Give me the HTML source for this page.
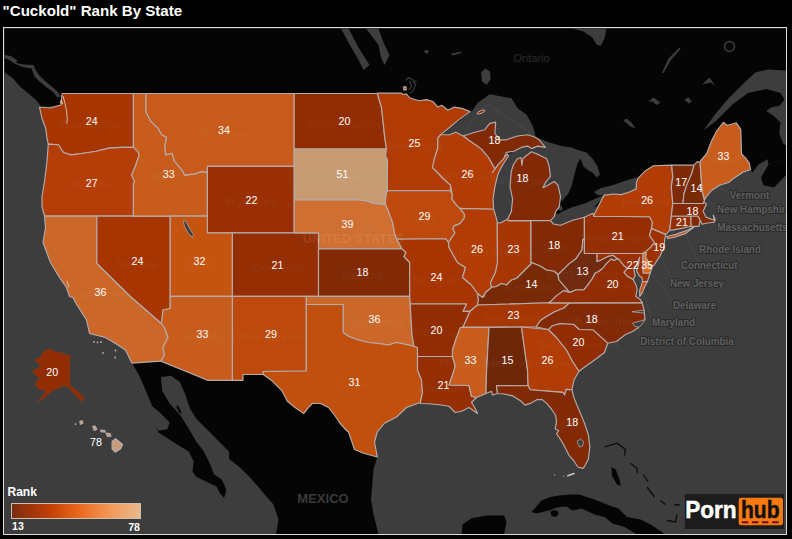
<!DOCTYPE html>
<html><head><meta charset="utf-8"><title>Rank By State</title>
<style>
html,body{margin:0;padding:0;background:#000;}
body{width:792px;height:539px;overflow:hidden;position:relative;font-family:"Liberation Sans",sans-serif;}
#title{position:absolute;left:2.6px;top:1px;color:#fff;font-weight:bold;font-size:15.1px;line-height:20px;white-space:nowrap;}
svg{position:absolute;left:0;top:0;}
svg text{font-family:"Liberation Sans",sans-serif;}
</style></head><body>
<div id="title">"Cuckold" Rank By State</div>
<svg width="792" height="539" viewBox="0 0 792 539">
<defs><clipPath id="c"><rect x="4" y="28" width="782" height="506"/></clipPath><linearGradient id="g" x1="0" x2="1" y1="0" y2="0"><stop offset="0" stop-color="#7a2c10"/><stop offset="0.3" stop-color="#c23f06"/><stop offset="0.5" stop-color="#e8641a"/><stop offset="0.75" stop-color="#f29655"/><stop offset="1" stop-color="#e9ba8e"/></linearGradient></defs>
<rect x="3.5" y="27.5" width="783" height="507" fill="#3d3d3d" stroke="#dcdcdc" stroke-width="1"/>
<g clip-path="url(#c)">
<g transform="translate(0.5,0.5)">
<polygon points="4,28 786,28 786,70 768,69 755,71.7 745,81 727,99 714,114.5 703,130 716,120 732,104 747.5,92.5 765.7,88.5 780,92.5 784,99 778.7,105.5 771,106.8 765.7,110.6 773.5,115.8 780,122 778.7,132.7 782.6,143 786,145 786,158.7 768,164 767,158.7 758,164 752,172 745,165 720,170 700,175 680,190 640,200 600,205 560,215 500,180 470,150 440,140 400,150 396,95 62,95 60.4,104 50,106 39,106.5 39.1,103.8 35.4,99.3 27.8,93 18.9,85.5 12.6,77.9 4,71.6" fill="#050505"/>
<polygon points="760.5,177 768,164 786,158.7 786,174 773.5,187 763,184.7" fill="#050505"/>
<polygon points="131.4,362.6 160.4,360.6 207.1,379.8 231.9,379.8 242.5,379.8 242.5,374 262.7,374 271.5,380.3 281.6,390.4 286.7,400.5 294.2,406.8 303.1,413.1 308.1,406.8 311.9,403 320,403 328,407 334,414.5 339,422 345.5,429.5 348,431.5 354,449 363,452.75 376.75,456.5 373,469 370.5,499 373,514 378,534 275.5,534 278,519 273,504 265,495 257.6,486 248.8,476.3 238.7,466.2 228.6,458.6 228.6,451 221,443.4 208.4,430.8 195.8,418.2 189.4,408.1 184.4,392.9 179.3,381.6 170.5,375.3 160.4,376.5 161.7,390.4 169.2,403 180.6,415.7 188.2,428.3 195.8,440.9 203.3,451 209.6,463.6 213.4,473.7 221,478.8 223.5,483.8 226,490 223.5,497.5 219,492 216,486 205.9,481.3 195.8,476.3 192,471.2 193.2,461.1 188.2,451 178,444.7 168,438.4 157.9,432 154.8,424.5 157.9,430.3 166.7,428.8 169.2,422 160.4,413.1 151.6,405.6 146.5,392.9 138.9,375.3" fill="#050505"/>
<polygon points="461,534 462,524 471,517.75 486,515 503.5,515 506,521.5 503.5,534" fill="#050505"/>
<polygon points="531,511.5 536,506 541,500 550,496.5 558.5,495 570,494 578.5,494 594,499 609,505 618,508 626.5,516.5 640,519 650,524 661.5,531.5 664,534 636.5,534 630,530 624,526.5 612,523 604,516.5 594,514 581,508 572,510 566,506 556,507 548.5,510 540,512 536,513" fill="#050505"/>
<polygon points="550,511 553,509.5 557,510.5 558,514 555,516.5 551,515.5" fill="#050505"/>
<polygon points="175.5,405.6 177.5,405 181,412 179.5,413.5" fill="#050505"/>
<polygon points="611,466.5 615.25,469 619,479 620.25,485.25 616.5,484 611.5,475.25" fill="#050505"/>
<polygon points="441.4,134.2 455.3,122.9 471.7,110.25 476.7,102.7 489.3,93.8 495.7,95.1 510.8,97.6 517.1,107.7 526,114 532.3,125.4 534.8,134.2 534.8,136.8 527.2,134.2 517.1,135.5 505.8,139.3 499.4,139.3 494.4,133 495.2,121.6 489.3,122.9 484.3,129.2 474.2,131.7 462.8,135.5 455.3,131.7 449,134.2" fill="#3d3d3d"/>
<polygon points="496.2,218.8 493.1,208.7 492.6,198.6 494.4,186 496.9,175.9 498,170 504,160 508,154 513.3,150.7 520.9,146.9 527.2,145.6 531,148.1 531,151.2 526,155 522.5,158 521.4,165 520.5,157 517.1,158.2 513,164 510.8,170.9 509.5,186 512.1,198.6 510.8,211.3 507,218.8 502,222.5 498,222" fill="#3d3d3d"/>
<polygon points="534.8,136.8 541,139 549,142 561,145.6 571,147 579,150 586,152 592,158 597,166 599.4,174.3 596,177 592,172 588,170 583,166 580,158 577,163 575,170 573,178 571,186 567.6,193.6 563.8,197.4 561.3,201 560,196.1 557.5,184.7 553.7,181 547.4,184.7 542.4,187.3 544.9,182.2 549.9,175.9 548.7,165.8 546.2,158.2 538.6,154.4 531,151.2 531,148.1 537.3,145.6 544.9,146.9 538.6,139.3" fill="#3d3d3d"/>
<polygon points="549.9,220.1 553.7,216.3 561.3,211.3 572.1,206.6 584.3,203 596.4,197.5 602.9,194.9 603.5,194.9 601.5,198.5 594.1,205.7 593.4,214.7 583.9,216.7 572.1,219.8 560,224.8 553,223.5" fill="#3d3d3d"/>
<polygon points="593.4,191.5 600.5,187.4 612.6,184.4 624.7,180.3 634.8,177.3 637.9,177.3 642,173 639,179 635.8,182.4 635.8,188.4 628.8,191.5 620.7,194.1 612.6,193.5 603.5,194.9 597,194.5" fill="#3d3d3d"/>
<polygon points="558,206 561,205 562.5,208.5 560,210.5 557.5,209" fill="#3d3d3d"/>
<polygon points="4,54.5 10,55.5 16.5,59.5 16,62.5 23,64 33,64.5 35,69 38,74 44,80 50,85 57,91 60.5,96 57,97 52,91 45,86 39,81 34,76 31,68 22,66.5 14,63 8,59 4,57.5" fill="#3d3d3d"/>
<polygon points="405,88 406,88 406,89" fill="#3d3d3d"/>
<polygon points="423.5,50 428.5,49.5 427,53 425,53" fill="#3d3d3d"/>
<polygon points="450,53.5 460,51 461,52.5 452,55" fill="#3d3d3d"/>
<polygon points="647.75,101 653,97 660,102 656,104.5 652,101" fill="#3d3d3d"/>
<polygon points="684,99 688,97 691.5,101 688,103" fill="#3d3d3d"/>
<polygon points="622.75,120 626,118 631,122 635,128 630,126" fill="#3d3d3d"/>
<polygon points="701.5,84 709,77 715,85.75 710,82 706,83" fill="#3d3d3d"/>
<polygon points="661.5,72 668,58 679,47 680,48.5 670,60 663,72.5" fill="#3d3d3d"/>
<polygon points="340.5,28 348,28 358,47 369,64.5 363,69.5 358,59.5 348,42" fill="#3d3d3d"/>
<polygon points="365.5,28 378,28 383,42 389,54.5 384,64.5 380.5,57 378,44.5 370.5,34.5" fill="#3d3d3d"/>
<polygon points="480.5,72 485,68 489.5,71 490,79 486,84.5 481.5,81" fill="#3d3d3d"/>
<polygon points="571,28 606,28 604,38 600,45.5 596,44 592,37 583,31" fill="#3d3d3d"/>
<polygon points="576.5,441 580,438.5 583,441 582,445.5 579,446.5" fill="#3d3d3d"/>
<polygon points="631.3,311.3 643,309.6 643.6,312.6" fill="#3d3d3d"/>
<polygon points="632,322.7 644.6,319.3 641.5,323.5 638.5,326.8 634.3,325.7" fill="#3d3d3d"/>
<polygon points="183,221 185,220 189,228 193,234 192,237 188,233 184,226" fill="#3d3d3d"/>
<polyline points="604,446.5 616.5,442.75 625,449 624,455" fill="none" stroke="#0b0b0b" stroke-width="1.3"/>
<polyline points="630,462.75 636.5,467.75 637,472.75" fill="none" stroke="#0b0b0b" stroke-width="1.3"/>
<polyline points="642.75,474 647.75,481.5" fill="none" stroke="#0b0b0b" stroke-width="1.3"/>
<polyline points="646.5,486.5 654,496.5" fill="none" stroke="#0b0b0b" stroke-width="1.3"/>
<polyline points="660,500 665,504" fill="none" stroke="#0b0b0b" stroke-width="1.3"/>
<polyline points="666.5,520 675,521.5 676.5,514" fill="none" stroke="#0b0b0b" stroke-width="1.3"/>
<polyline points="674,504 679,504.5" fill="none" stroke="#0b0b0b" stroke-width="1.3"/>
<circle cx="729" cy="46" r="5" fill="none" stroke="#3d3d3d" stroke-width="1.5"/>
<polyline points="463.5,134.5 478.5,109.5 488.5,104.5 531,133" fill="none" stroke="#4c4c4c" stroke-width="0.8"/>
<ellipse cx="480.5" cy="111.5" rx="4.2" ry="1.3" transform="rotate(-24 480.5 111.5)" fill="#822a06" stroke="#c9c0bd" stroke-width="0.8"/>
<path d="M405 80L408 77L412 79L415 84L413 90L409 93M409 80L411 86L408 90M412 82L416 80" fill="none" stroke="#3a3a3a" stroke-width="1.2"/>
<line x1="717" y1="241.5" x2="698" y2="224" stroke="#4b4b4b" stroke-width="0.8"/>
<line x1="697" y1="261" x2="684" y2="230" stroke="#4b4b4b" stroke-width="0.8"/>
<line x1="729" y1="192" x2="690" y2="176" stroke="#4b4b4b" stroke-width="0.8"/>
<line x1="716" y1="208" x2="701" y2="192" stroke="#4b4b4b" stroke-width="0.8"/>
<line x1="716" y1="227" x2="708" y2="216" stroke="#4b4b4b" stroke-width="0.8"/>
<line x1="672" y1="281" x2="660" y2="256" stroke="#4b4b4b" stroke-width="0.8"/>
<line x1="672" y1="300" x2="649" y2="271" stroke="#4b4b4b" stroke-width="0.8"/>
<line x1="651" y1="318" x2="636" y2="271" stroke="#4b4b4b" stroke-width="0.8"/>
<line x1="640" y1="337" x2="627" y2="269" stroke="#4b4b4b" stroke-width="0.8"/>
<g font-weight="bold" font-size="10.6" fill="#5f5f5f" stroke="#2a2a2a" stroke-width="2" paint-order="stroke" stroke-linejoin="round" text-anchor="middle">
<text transform="translate(749,198) scale(0.93,1)">Vermont</text>
<text transform="translate(753.5,212.7) scale(0.93,1)">New Hampshire</text>
<text transform="translate(752,230.3) scale(0.93,1)">Massachusetts</text>
<text transform="translate(729.5,252.2) scale(0.93,1)">Rhode Island</text>
<text transform="translate(708.7,268.3) scale(0.93,1)">Connecticut</text>
<text transform="translate(696.5,286.5) scale(0.93,1)">New Jersey</text>
<text transform="translate(694,308.3) scale(0.93,1)">Delaware</text>
<text transform="translate(673.2,325) scale(0.93,1)">Maryland</text>
<text transform="translate(686.4,344.6) scale(0.93,1)">District of Columbia</text>
</g>
<text x="322.5" y="502" text-anchor="middle" font-weight="bold" font-size="13" fill="#3a3a3a">MEXICO</text>
<text x="531" y="61" text-anchor="middle" font-size="11" fill="#2c2c2c">Ontario</text>
<g stroke="#b4acab" stroke-width="1.15" stroke-linejoin="round">
<polygon points="61.7,93 132.9,93 132.9,146.9 121,146.9 108.4,147.6 95.75,150.7 83,152.7 70.5,154.4 62.9,152 57.9,144.3 47.8,143.6 46.5,138 45.25,128 41.5,118 39,106.5 50,107.5 60.4,104.5 61,98" fill="#a63502"/>
<polygon points="47.8,143.6 57.9,144.3 62.9,152 70.5,154.4 83,152.7 95.75,150.7 108.4,147.6 121,146.9 132.9,146.9 137.4,151.2 138.7,154.4 134.9,165.8 131.1,174.6 134.1,181 132.9,183.5 132.9,215.6 44,215.6 41.5,206 41.5,196 44,181 46.5,160.75" fill="#b53d07"/>
<polygon points="44,215.6 96.4,215.6 96.4,263 130,296 161,323 164,327 167.5,337 162.5,347 164,354.5 160.4,360.6 131.4,362.6 125,349.5 117.5,344.5 105,337 89,333 86,319.5 75,302 72.5,297 69,296 66,287 59,277 50,262 42.5,242 45,227" fill="#cc672a"/>
<polygon points="96.4,215.6 169.7,215.6 169.7,308 162.5,309.5 161,323 130,296 96.4,263" fill="#a63502"/>
<polygon points="132.9,93 145.5,93 145.5,111.5 150,120.4 157.6,127.9 161.4,134.2 166,136.8 164.4,145.6 165.2,154.4 171.5,152.7 174,160.75 181.6,169.6 184.1,174.6 194.2,173.4 201.8,170.9 205.6,172 206.9,170 206.9,215.6 132.9,215.6 132.9,183.5 134.1,181 131.1,174.6 134.9,165.8 138.7,154.4 137.4,151.2 132.9,146.9" fill="#c75c1c"/>
<polygon points="145.5,93 293.7,93 293.7,165.8 206.9,165.8 206.9,170 205.6,172 201.8,170.9 194.2,173.4 184.1,174.6 181.6,169.6 174,160.75 171.5,152.7 165.2,154.4 164.4,145.6 166,136.8 161.4,134.2 157.6,127.9 150,120.4 145.5,111.5" fill="#c85b1b"/>
<polygon points="206.9,165.8 293.7,165.8 293.7,232.3 206.9,232.3" fill="#9a2f04"/>
<polygon points="169.7,215.6 206.9,215.6 206.9,232.3 231.9,232.3 231.9,295.9 169.7,295.9" fill="#c4540f"/>
<polygon points="231.9,232.3 318,232.3 318,295.9 231.9,295.9" fill="#952e03"/>
<polygon points="169.7,295.9 231.9,295.9 231.9,379.8 207.1,379.8 160.4,360.6 164,354.5 162.5,347 167.5,337 164,327 161,323 162.5,309.5 169.7,308" fill="#c75c1c"/>
<polygon points="231.9,295.9 305.8,295.9 305.8,370.5 262.7,371 262.7,374 242.5,374 242.5,379.8 231.9,379.8" fill="#bd4a0c"/>
<polygon points="293.7,93 376.8,93 381,107 383,125 384,135 386,148.5 293.7,148.5" fill="#912c03"/>
<polygon points="293.7,148.5 386,148.5 385,155 387,160 386.75,189.5 386.2,191.5 385,199.7 385,204.1 373,203 366,200.5 358,199.5 293.7,199.5" fill="#c69b72"/>
<polygon points="293.7,199.5 358,199.5 366,200.5 373,203 385,204.1 388.1,211.1 391.9,221.2 394.4,233.8 396.3,238.8 401.5,248.3 318,248.3 318,232.3 293.7,232.3" fill="#cf6f31"/>
<polygon points="318,248.3 401.5,248.3 405.5,252 403.5,256 409.2,262 409.2,295.9 318,295.9" fill="#822a06"/>
<polygon points="305.8,295.9 409.7,295.9 409.7,303.5 411.5,334.5 413.5,345.75 401,343 396,342 388,344.5 378,343 368,342 358,339.5 348,335.75 342.6,332 342.6,304 305.8,304" fill="#cc672a"/>
<polygon points="305.8,304 342.6,304 342.6,332 348,335.75 358,339.5 368,342 378,343 388,344.5 396,342 401,343 413.5,345.75 417,347 417,369.5 421,379.5 422,392 419.75,402 406,407 396,416.5 384,422.75 376.75,431.5 374,441.5 376.75,456.5 363,452.75 354,449 348,431.5 345.5,429.5 339,422 334,414.5 328,407 320,403 311.9,403 308.1,406.8 303.1,413.1 294.2,406.8 286.7,400.5 281.6,390.4 271.5,380.3 262.7,374 262.7,371 305.8,370.5" fill="#c14f0e"/>
<polygon points="403.2,86.3 405.6,86.3 405.6,89.4 403.2,89.4" fill="#b13b05"/>
<polygon points="376.8,92.6 400.8,92.6 402.6,94 405.8,93.4 409,97.2 418.4,100.3 426,99.1 432.3,101 437.4,106.6 441.2,104.8 447.5,109.8 453.8,106.6 461.4,107.9 469.6,111.1 457.6,119.9 450,126.2 439.9,134.4 437.4,137.6 437.2,148 434,158 432,167 437,172 444.3,179.5 450,184.6 450,190.2 387.5,190.2 386.75,189.5 387,160 385,155 386,148.5 384,135 383,125 381,107" fill="#b13b05"/>
<polygon points="387.5,190.2 450,190.2 451.9,194.7 451.3,198.4 456.3,204.8 459.5,207.9 463.9,213.6 463.9,217.4 459.5,223.1 453.2,225.6 452.5,228.1 454.4,232.5 451.3,237 448.1,242 444.9,238.2 396.3,238.8 394.4,233.8 391.9,221.2 388.1,211.1 385,204.1 385,199.7 386.2,191.5" fill="#bd4a0c"/>
<polygon points="396.3,238.8 444.9,238.2 448.1,242 448.5,247 457,262 465,267 462,277 471,284.5 477,293 478,299 477,304.5 469.5,310.8 462.5,310.8 466,303.5 409.7,303.5 409.2,295.9 409.2,262 403.5,256 405.5,252 401.5,248.3" fill="#a63502"/>
<polygon points="409.7,303.5 466,303.5 462.5,310.8 469.5,310.8 463.5,324.5 456,337 452,349.5 452,356 417,356 417,347 413.5,345.75 411.5,334.5" fill="#912c03"/>
<polygon points="417,356 452,356 454.75,365.75 452,374.5 448.5,384.5 468.5,385 471,395.75 476,397 471,402 474.75,408 477,413 468.5,407 461,410.75 454.75,412 448.5,405.75 441,404.5 428.5,403.25 419.75,403 422,392 421,379.5 417,369.5" fill="#952e03"/>
<polygon points="441.4,134.2 449,134.2 455.3,131.7 462.8,135.5 467.9,139.3 480.5,148.1 488.1,157 493.1,165.8 494.4,168.3 491.9,172.1 497,165 503,158 507,153.5 508,155.5 503,163 498.5,171 496.9,175.9 494.4,186 492.6,198.6 493.1,208.7 459.5,207.9 456.3,204.8 451.3,198.4 451.9,194.7 450,184.6 444.3,179.5 437,172 432,167 434,158 437.2,148 437.4,137.6 439.9,134.4" fill="#b23c05"/>
<polygon points="459.5,207.9 493.1,208.7 496.2,218.8 496.75,222 497,262 495,272 490,282 491,287 485,292 483.5,294.5 482,297 477,293 471,284.5 462,277 465,267 457,262 448.5,247 448.1,242 451.3,237 454.4,232.5 452.5,228.1 453.2,225.6 459.5,223.1 463.9,217.4 463.9,213.6" fill="#b23c05"/>
<polygon points="496.75,222 499.75,222.5 507,218.8 508,220.1 530.5,220.1 530.5,262 531,263 526,268 521,273 516,278 511,279.5 506,284.5 501,283 496,286 491,287 490,282 495,272 497,262" fill="#a63604"/>
<polygon points="462.8,135.5 474.2,131.7 484.3,129.2 489.3,122.9 495.2,121.6 494.4,133 499.4,139.3 505.8,139.3 517.1,135.5 527.2,134.2 534.8,136.8 538.6,139.3 544.9,146.9 537.3,145.6 531,148.1 527.2,145.6 520.9,146.9 513.3,150.7 505.8,151.9 503.2,158.2 498.2,163.3 494.4,168.3 493.1,165.8 488.1,157 480.5,148.1 467.9,139.3" fill="#822a06"/>
<polygon points="507,218.8 510.8,211.3 512.1,198.6 509.5,186 510.8,170.9 513,164 517.1,158.2 520.5,157 521.4,165 522.5,158 526,155 531,151.2 538.6,154.4 546.2,158.2 548.7,165.8 549.9,175.9 544.9,182.2 542.4,187.3 547.4,184.7 553.7,181 557.5,184.7 560,196.1 558.8,206.2 555,211.3 553.7,216.3 549.9,220.1 508,220.1" fill="#822a06"/>
<polygon points="530.5,220.1 549.9,220.1 553,223.5 560,224.8 572.1,219.8 583.9,216.7 583.9,239 582.4,238.8 581.5,249.4 575.4,258.3 568.3,263.6 561.2,270.7 557.7,274.2 553.5,270.75 546,269.5 540,265.75 533.5,263 530.5,262" fill="#822a06"/>
<polygon points="530.5,262 533.5,263 540,265.75 546,269.5 553.5,270.75 557.7,274.2 557.7,276 558.6,279.5 564.7,286.6 569.2,291.9 563,290.1 555.9,295.4 550.6,300.7 548,302.3 477,304.5 478,299 477,293 482,297 483.5,295.9 485,292 491,287 496,286 501,283 506,284.5 511,279.5 516,278 521,273 526,268 531,263" fill="#782906"/>
<polygon points="477,304.5 548,302.3 569.2,302.3 563,307.8 554.1,311.3 545.3,316.6 540,320 536,325.75 536,326.5 462,326.5 463.5,324.5 469.5,310.8" fill="#a63604"/>
<polygon points="459.75,327 488.5,327 486,372 485.5,393 476,397 471,395.75 468.5,385 448.5,384.5 452,374.5 454.75,365.75 452,356 452,349.5 456,337" fill="#c75c1c"/>
<polygon points="488.5,327 521,326.5 527,369.5 527.6,385.2 496,385 497,393 492,394.5 491,390.75 485.5,393 486,372" fill="#6e2609"/>
<polygon points="521,326.5 547.9,329 556,337 566,349.5 572,360.75 578.5,370.75 573.5,379.5 571.4,389.3 565.7,388.9 564.3,394.4 562.2,391.9 529.6,389.3 527.6,385.2 527,369.5" fill="#b23c05"/>
<polygon points="496,385 527.6,385.2 529.6,389.3 562.2,391.9 564.3,394.4 565.7,388.9 571.4,389.3 573.5,397.4 578.6,409.7 583.7,421.9 587.8,434.2 589.4,446.4 587.8,458.7 584.7,464.8 582.7,467.9 577.6,466.8 573.5,460.7 568.4,454.6 564.3,446.4 560.2,439.3 556.1,433.2 558.2,430.1 554.7,428.5 556.1,421.9 555.1,414.8 551,408.7 545.9,402.6 541.8,399.1 536.7,399.1 530.6,402.6 524.5,404.6 520.4,400.5 512.2,395.4 503.5,393.5 497,393" fill="#822a06"/>
<polygon points="547.9,329 551.7,325.2 559.3,323 573,323.7 579,329 592.7,329.3 607.2,342.7 604,352 594,359.5 583.5,367 578.5,370.75 572,360.75 566,349.5 556,337" fill="#912c03"/>
<polygon points="569.2,302.3 641.6,302.1 643.5,309 644.5,318.5 641,322 638,327 632,331 625,334 616,341 607.2,342.7 592.7,329.3 579,329 573,323.7 559.3,323 551.7,325.2 547.9,329 536,326.5 536,325.75 540,320 545.3,316.6 554.1,311.3 563,307.8" fill="#822a06"/>
<polygon points="550.6,300.7 555.9,295.4 563,290.1 569.2,291.9 575.4,289.2 583.3,289.2 586.8,284.8 591.3,278.6 594.8,272.4 598.3,270.7 601.9,268 606.3,262.7 610.7,258.3 613.4,260 616.9,258.3 617.8,258.2 623,264.7 626.9,267.9 623.6,271.8 626.9,275.7 632.7,279 634.7,283 636,286 636.6,289.4 635.3,295.9 639.2,298.4 641.8,302.1 569.2,302.3 548,302.3" fill="#912c03"/>
<polygon points="582.4,238.8 583.9,239 583.9,253 596.6,253 596.6,261 601,259.2 608,255.6 612.5,254.7 616.9,258.3 613.4,260 610.7,258.3 606.3,262.7 601.9,268 598.3,270.7 594.8,272.4 591.3,278.6 586.8,284.8 583.3,289.2 575.4,289.2 569.2,291.9 564.7,286.6 558.6,279.5 557.7,276 557.7,274.2 561.2,270.7 568.3,263.6 575.4,258.3 581.5,249.4" fill="#702a0f"/>
<polygon points="583.9,216.7 592.4,212.7 593.4,215.7 649,216.3 652,221.8 651,227.9 649,235 654,242 650,247.1 643.9,252.1 642.5,253 583.9,253" fill="#952e03"/>
<polygon points="596.6,253 642.5,253 642.7,272.5 649.6,272.5 647,280.9 641.8,281.3 641.8,277.7 638.6,275 636,269.9 637.9,264.7 639.2,256.6 636,264.7 633.4,269.2 634.7,275 632.7,279 626.9,275.7 623.6,271.8 626.9,267.9 623,264.7 617.8,258.2 616.9,258.3 612.5,254.7 608,255.6 601,259.2 596.6,261" fill="#9a2f04"/>
<polygon points="641.8,281.3 647,280.9 644,286.8 641.2,293.2 639.2,295.9 639.2,289.4 641.2,284.2" fill="#cf4c12"/>
<polygon points="651,227.9 665.2,233.9 664.2,239 663.9,242.6 663.2,247.8 659.4,255.6 653.5,264.7 650.6,265.8 648.3,262 645,256.9 645.7,252.3 643.9,252.1 650,247.1 654,242 649,235" fill="#9e3204"/>
<polygon points="642.5,252.3 645.7,252.3 645,256.9 648.3,262 651.3,268 649.6,272.5 642.7,272.5" fill="#e06a1c"/>
<polygon points="593.4,214.7 601.5,198.5 603.5,194.9 612.6,193.5 620.7,194.1 628.8,191.5 635.8,188.4 635.8,182.4 637.9,177.3 645,170.2 653,165.2 671.2,164.6 672.3,176.3 670.8,186.4 672.3,203 670.8,215.7 669.2,229.9 665.2,233.9 651,227.9 652,221.8 649,216.3 593.4,215.7" fill="#b23c05"/>
<polygon points="666.2,236 675.3,233.9 686.4,229.9 694.5,225.8 685.4,232.9 673.3,237 667.2,238" fill="#cf4c12"/>
<polygon points="671.2,164.6 693.5,164.6 691.5,172.2 686.4,184.4 683.4,193.5 682.4,203 672.3,203 670.8,186.4 672.3,176.3" fill="#7e2a08"/>
<polygon points="693.5,164.6 695.9,162.1 697.5,161.1 699.6,162.1 701.6,190.5 704,199.6 702.6,203 682.4,203 683.4,193.5 686.4,184.4 691.5,172.2" fill="#782906"/>
<polygon points="699.6,162.1 700.3,160 706,153.5 711,140.5 716.4,130 722.9,121.8 726.75,125 735.8,122.3 740.3,128.8 741,153.5 745,157.4 748.8,162.6 750,169 742.3,171.7 734.5,176.9 728,182 719,184.7 711,190 704.7,197.7 704,199.6 701.6,190.5" fill="#c75c1c"/>
<polygon points="672.3,203 702.6,203 704,201.6 706,203.6 702.6,210.7 705.6,216.7 713.7,219.8 712.7,214.7 714.7,218.8 713.7,221.8 705.6,222.8 701.6,223.8 699.6,219.8 697.5,215.7 670.8,215.7" fill="#822a06"/>
<polygon points="670.8,215.7 690.5,215.7 690.5,225.8 681.4,227.9 670.2,229.9 669.2,229.9" fill="#952e03"/>
<polygon points="690.5,215.7 697.5,215.7 699.6,219.8 698.5,225.8 690.5,225.8" fill="#822a06"/>
<polygon points="47.8,348.5 53.6,350.8 69.4,354.7 69.4,384.9 75.7,389.5 83.8,397.6 81.5,401.1 75.7,395.3 69.9,388.4 64.1,384.9 59.4,387.2 54.8,388.4 50.2,391.8 43.2,397.6 36.2,401.8 43.2,394.2 45.5,389.5 39.7,389.5 35.1,384.9 36.2,380.2 39.7,377.9 33.9,373.3 32.1,369.8 38.6,367.5 39.7,364 33.9,359.4 39.7,357 43.2,351.2" fill="#912c03" stroke="#8a3a1a" stroke-width="0.6"/>
<polygon points="79.3,420.8 81.8,420.4 82.4,422.8 80,423.8" fill="#c89b7a"/>
<polygon points="92.3,425.8 94.5,425.5 96.5,428.8 93.8,430" fill="#c89b7a"/>
<polygon points="100.2,429.6 104.5,430 104.5,431.6 100.5,431.3" fill="#c89b7a"/>
<polygon points="105.5,432.5 109.5,433 110.5,435.8 107,436" fill="#c89b7a"/>
<polygon points="111.6,440.6 115.1,438.2 122.1,444 120.2,448.2 114.7,451.7 111.6,448.7" fill="#c89b7a"/>
</g>
<circle cx="93.5" cy="341.3" r="0.9" fill="#b9b4b0"/>
<circle cx="97" cy="341.8" r="0.9" fill="#b9b4b0"/>
<circle cx="100.5" cy="341.5" r="0.9" fill="#b9b4b0"/>
<circle cx="102.4" cy="352.4" r="0.9" fill="#b9b4b0"/>
<circle cx="115" cy="350" r="0.9" fill="#b9b4b0"/>
<circle cx="114.7" cy="357" r="0.9" fill="#b9b4b0"/>
<circle cx="75" cy="423.6" r="0.9" fill="#b9b4b0"/>
<polygon points="576.5,441 580,438.5 583,441 582,445.5 579,446.5" fill="#3d3d3d" stroke="#b3a6a3" stroke-width="0.8"/>
<polygon points="631.3,311.3 643,309.6 643.6,312.6" fill="#3d3d3d" stroke="#b3a6a3" stroke-width="0.8"/>
<polygon points="632,322.7 644.6,319.3 641.5,323.5 638.5,326.8 634.3,325.7" fill="#3d3d3d" stroke="#b3a6a3" stroke-width="0.8"/>
<polygon points="183,221 185,220 189,228 193,234 192,237 188,233 184,226" fill="#3d3d3d" stroke="#b3a6a3" stroke-width="0.8"/>
<path d="M62.5 95.5L64.3 102L65.8 109L66.8 117L66.4 123M61 99.5L59.5 102L62 103.5Z M66 280.5L67.6 283.5L68.4 287" fill="none" stroke="#cfc9c6" stroke-width="0.9"/>
<path d="M567.3 475.2L573.5 473" stroke="#c9c4c0" stroke-width="1.6" stroke-linecap="round"/><circle cx="554" cy="474.4" r="0.7" fill="#b0aaa6"/><circle cx="563.3" cy="475.6" r="0.7" fill="#b0aaa6"/>
<g font-weight="bold" font-size="11.5" fill="#ffffff" fill-opacity="0.045" text-anchor="middle">
<text x="91.2" y="127">Washington</text>
<text x="91.2" y="188.2">Oregon</text>
<text x="100" y="297.5">California</text>
<text x="137" y="267">Nevada</text>
<text x="168.2" y="179.9">Idaho</text>
<text x="223.5" y="136">Montana</text>
<text x="251" y="205.5">Wyoming</text>
<text x="199" y="267">Utah</text>
<text x="277" y="271">Colorado</text>
<text x="202" y="340">Arizona</text>
<text x="270.5" y="340">New Mexico</text>
<text x="344" y="127">North Dakota</text>
<text x="342" y="180">South Dakota</text>
<text x="347" y="230">Nebraska</text>
<text x="362" y="278">Kansas</text>
<text x="374" y="325">Oklahoma</text>
<text x="354" y="388">Texas</text>
<text x="414" y="149">Minnesota</text>
<text x="424" y="222">Iowa</text>
<text x="436" y="283">Missouri</text>
<text x="436" y="336">Arkansas</text>
<text x="443" y="391">Louisiana</text>
<text x="467" y="180">Wisconsin</text>
<text x="476.5" y="255">Illinois</text>
<text x="513" y="255">Indiana</text>
<text x="522" y="184">Michigan</text>
<text x="553.8" y="251">Ohio</text>
<text x="531" y="290">Kentucky</text>
<text x="513" y="321">Tennessee</text>
<text x="470" y="366">Mississippi</text>
<text x="507" y="366">Alabama</text>
<text x="547" y="366">Georgia</text>
<text x="571.8" y="427.9">Florida</text>
<text x="578" y="348">South Carolina</text>
<text x="591.3" y="324.9">North Carolina</text>
<text x="612.1" y="289.9">Virginia</text>
<text x="581.9" y="277">West Virginia</text>
<text x="617.2" y="241.3">Pennsylvania</text>
<text x="646.6" y="205.2">New York</text>
<text x="723" y="162">Maine</text>
</g>
<text x="302.5" y="242" font-weight="bold" font-size="12.3" fill="#ffffff" fill-opacity="0.1" letter-spacing="0.45">UNITED STATES</text>
<g fill="#fff" font-size="10.7" text-anchor="middle">
<text x="91.2" y="124.8">24</text>
<text x="223.5" y="133.8">34</text>
<text x="344" y="124.8">20</text>
<text x="414" y="146.8">25</text>
<text x="494" y="143.8">18</text>
<text x="723" y="159.8">33</text>
<text x="91.2" y="186.0">27</text>
<text x="168.2" y="177.70000000000002">33</text>
<text x="137" y="264.8">24</text>
<text x="100" y="295.3">36</text>
<text x="199" y="264.8">32</text>
<text x="251" y="203.3">22</text>
<text x="342" y="177.8">51</text>
<text x="347" y="227.8">39</text>
<text x="277" y="268.8">21</text>
<text x="362" y="275.8">18</text>
<text x="467" y="177.8">26</text>
<text x="522" y="181.8">18</text>
<text x="424" y="219.8">29</text>
<text x="476.5" y="252.8">26</text>
<text x="513" y="252.8">23</text>
<text x="553.8" y="248.8">18</text>
<text x="436" y="280.8">24</text>
<text x="531" y="287.8">14</text>
<text x="581.9" y="274.8">13</text>
<text x="646.6" y="203.0">26</text>
<text x="680.8" y="185.8">17</text>
<text x="695.9" y="191.60000000000002">14</text>
<text x="691.9" y="214.5">18</text>
<text x="681.4" y="225.60000000000002">21</text>
<text x="617.2" y="239.10000000000002">21</text>
<text x="658.8" y="250.10000000000002">19</text>
<text x="632.3" y="268.8">22</text>
<text x="646.6" y="268.8">35</text>
<text x="612.1" y="287.7">20</text>
<text x="51.8" y="375.90000000000003">20</text>
<text x="202" y="337.8">33</text>
<text x="270.5" y="337.8">29</text>
<text x="354" y="385.8">31</text>
<text x="374" y="322.8">36</text>
<text x="436" y="333.8">20</text>
<text x="513" y="318.8">23</text>
<text x="470" y="363.8">33</text>
<text x="507" y="363.8">15</text>
<text x="547" y="363.8">26</text>
<text x="578" y="345.8">20</text>
<text x="443" y="388.8">21</text>
<text x="591.3" y="322.7">18</text>
<text x="571.8" y="425.7">18</text>
<text x="95.4" y="445.1">78</text>
</g>
</g>
<text x="7.5" y="496" font-weight="bold" font-size="12" fill="#fff">Rank</text>
<rect x="11.5" y="503.5" width="129" height="15" fill="url(#g)" stroke="#cdbfae" stroke-width="1"/>
<text x="12" y="530" font-size="10.6" fill="#fff" font-weight="bold">13</text>
<text x="140" y="531" font-size="10.6" fill="#fff" font-weight="bold" text-anchor="end">78</text>
<rect x="684.8" y="494.2" width="99.2" height="34.8" fill="#1c1c1c"/>
<text x="685.2" y="518.4" font-weight="bold" font-size="24.6" fill="#fff" stroke="#fff" stroke-width="0.5" textLength="51.5" lengthAdjust="spacingAndGlyphs">Porn</text>
<rect x="738.7" y="497.7" width="44.3" height="27.5" rx="2.5" fill="#f7790f"/>
<text x="741" y="518.4" font-weight="bold" font-size="24.6" fill="#111" stroke="#111" stroke-width="0.5" textLength="38.5" lengthAdjust="spacingAndGlyphs">hub</text>
<path d="M741.8 522.2H781" stroke="#6e0a30" stroke-width="2.1" stroke-dasharray="6.5,3.6"/>
</g>
</svg>
</body></html>
